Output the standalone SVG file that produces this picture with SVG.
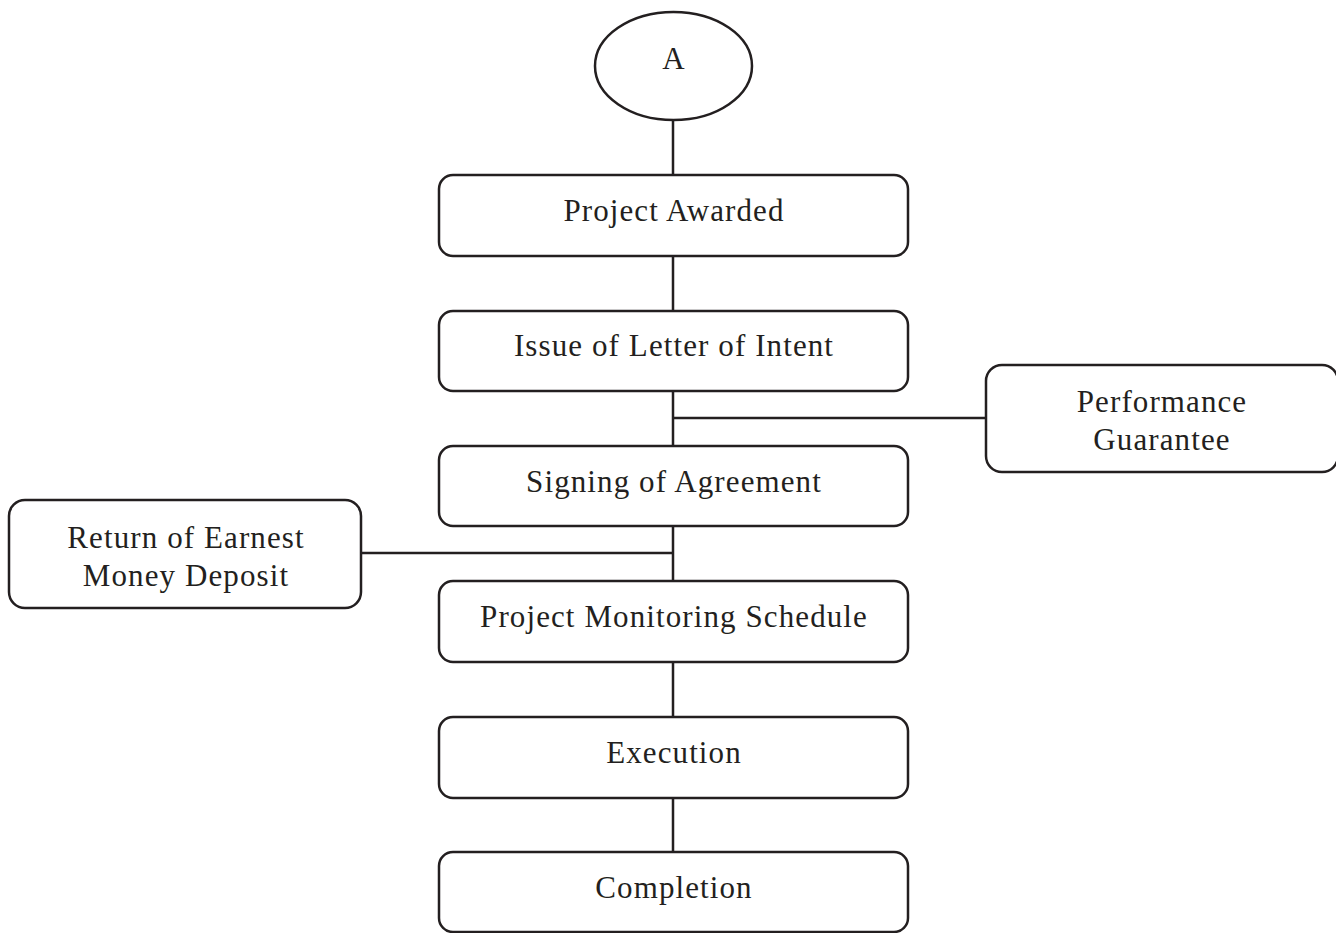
<svg xmlns="http://www.w3.org/2000/svg" width="1336" height="933" viewBox="0 0 1336 933">
<style>
.box{fill:#fff;stroke:#231f20;stroke-width:2.5}
.ln{stroke:#231f20;stroke-width:2.5;fill:none}
text{font-family:"Liberation Serif","Times New Roman",serif;font-size:31px;letter-spacing:1.1px;fill:#231f20;text-anchor:middle}
</style>
<rect width="1336" height="933" fill="#fff"/>
<g id="connectors">
<line class="ln" x1="673" y1="120" x2="673" y2="852"/>
<line class="ln" x1="673" y1="418" x2="987" y2="418"/>
<line class="ln" x1="361" y1="553" x2="673" y2="553"/>
</g>
<g id="nodeA"><ellipse class="box" cx="673.5" cy="66" rx="78.5" ry="54"/><text x="674" y="69">A</text></g>
<g id="n1"><rect class="box" x="439" y="175" width="469" height="81" rx="14"/><text x="674" y="221">Project Awarded</text></g>
<g id="n2"><rect class="box" x="439" y="311" width="469" height="80" rx="14"/><text x="674" y="356">Issue of Letter of Intent</text></g>
<g id="n3"><rect class="box" x="439" y="446" width="469" height="80" rx="14"/><text x="674" y="492">Signing of Agreement</text></g>
<g id="n4"><rect class="box" x="439" y="581" width="469" height="81" rx="14"/><text x="674" y="627">Project Monitoring Schedule</text></g>
<g id="n5"><rect class="box" x="439" y="717" width="469" height="81" rx="14"/><text x="674" y="763">Execution</text></g>
<g id="n6"><rect class="box" x="439" y="852" width="469" height="80" rx="14"/><text x="674" y="898">Completion</text></g>
<g id="perf"><rect class="box" x="986" y="365" width="352" height="107" rx="16"/><text x="1162" y="412">Performance</text><text x="1162" y="450">Guarantee</text></g>
<g id="emd"><rect class="box" x="9" y="500" width="352" height="108" rx="16"/><text x="186" y="548">Return of Earnest</text><text x="186" y="586">Money Deposit</text></g>
</svg>
